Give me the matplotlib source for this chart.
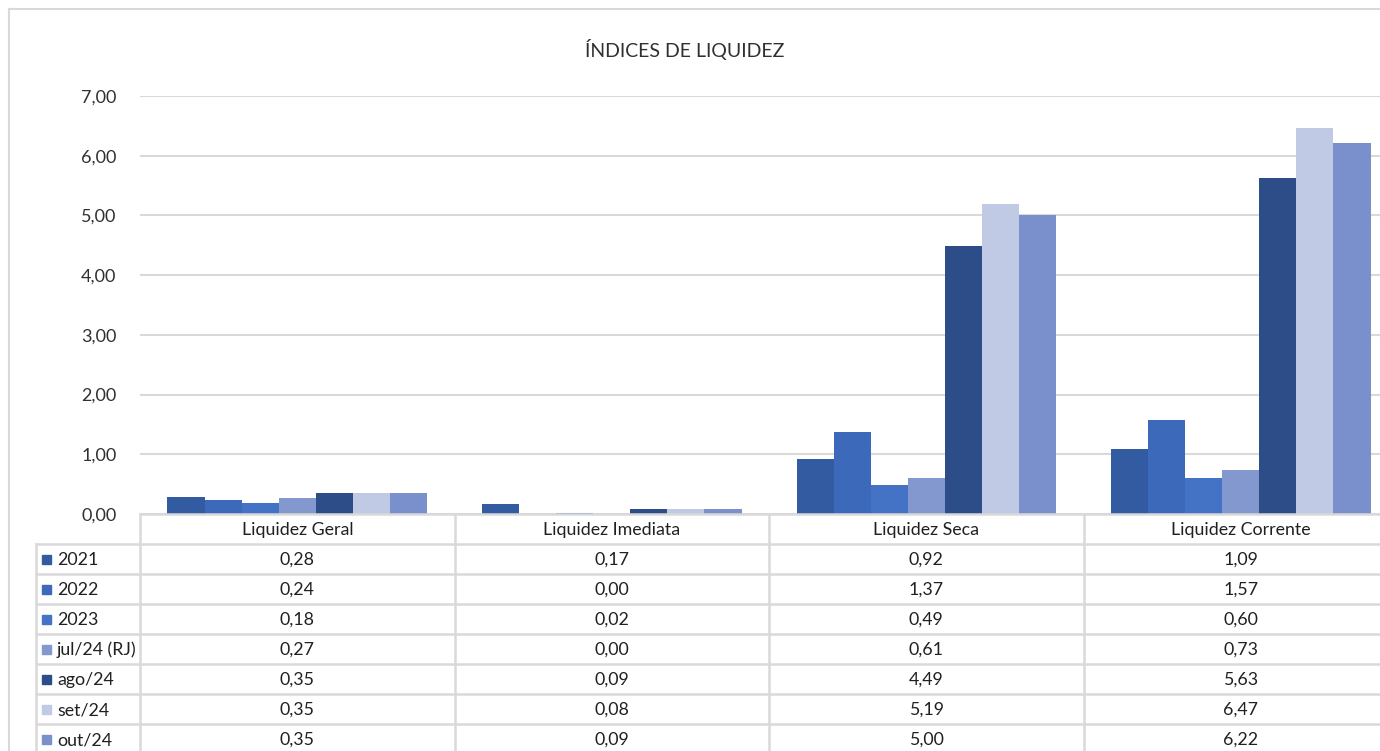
import numpy as np
import matplotlib
matplotlib.use('Agg')
import matplotlib.pyplot as plt
from matplotlib.patches import Rectangle
from matplotlib.lines import Line2D

plt.rcParams['font.family'] = ['Lato', 'DejaVu Sans']

title = 'ÍNDICES DE LIQUIDEZ'
categories = ['Liquidez Geral', 'Liquidez Imediata', 'Liquidez Seca', 'Liquidez Corrente']
series = ['2021', '2022', '2023', 'jul/24 (RJ)', 'ago/24', 'set/24', 'out/24']
values = [
    [0.28, 0.17, 0.92, 1.09],
    [0.24, 0.00, 1.37, 1.57],
    [0.18, 0.02, 0.49, 0.60],
    [0.27, 0.00, 0.61, 0.73],
    [0.35, 0.09, 4.49, 5.63],
    [0.35, 0.08, 5.19, 6.47],
    [0.35, 0.09, 5.00, 6.22],
]
colors = ['#335BA2', '#3C69B9', '#4472C4', '#8298CE', '#2C4D88', '#C0CAE4', '#7990CC']
yticks = [0, 1, 2, 3, 4, 5, 6, 7]

W, H = 1380, 751
fig = plt.figure(figsize=(W / 100, H / 100), dpi=100)

def px(x0, y0, x1, y1):
    # pixel box (top-left origin) -> figure fraction rect
    return [x0 / W, 1 - y1 / H, (x1 - x0) / W, (y1 - y0) / H]

grid_c = '#D9D9D9'
text_c = '#303030'
fs = 12.8

# outer chart border (left and top only visible)
fig.add_artist(Line2D([9 / W, 9 / W], [0, 1 - 9 / H], transform=fig.transFigure,
                      color=grid_c, linewidth=1.5))
fig.add_artist(Line2D([9 / W, 1], [1 - 9 / H, 1 - 9 / H], transform=fig.transFigure,
                      color=grid_c, linewidth=1.5))

# bar plot area
col_w = 314.5
x_left = 140
ax = fig.add_axes(px(x_left, 96, x_left + 4 * col_w, 514))
n = len(series)
gap = 55 / col_w
bw = (1 - gap) / n
x = np.arange(len(categories))
for i, (s, vals) in enumerate(zip(series, values)):
    ax.bar(x - 0.5 + gap / 2 + bw * (i + 0.5), vals, width=bw, color=colors[i], label=s, zorder=3)
ax.set_xlim(-0.5, len(categories) - 0.5)
ax.set_ylim(0, 7)
ax.set_yticks(yticks)
ax.set_yticklabels([f'{v:.2f}'.replace('.', ',') for v in yticks], fontsize=13, color=text_c)
ax.tick_params(axis='y', length=0, pad=17)
ax.set_xticks([])
ax.grid(axis='y', color=grid_c, linewidth=1.5, zorder=0)
for sp in ax.spines.values():
    sp.set_visible(False)
fig.text(685 / W, 1 - 50 / H, title, ha='center', va='center', fontsize=14, color=text_c)

# data table drawn on a full-figure overlay axes in pixel coordinates
tab = fig.add_axes([0, 0, 1, 1])
tab.set_xlim(0, W)
tab.set_ylim(H, 0)
tab.axis('off')
tab.patch.set_alpha(0)

row_h = 30
top = 514
label_x0 = 36
col_edges = [x_left + k * col_w for k in range(len(categories) + 1)]
n_rows = len(series)
bottom = top + row_h * (n_rows + 1)
lw = 1.8

# horizontal lines
tab.add_line(Line2D([x_left, col_edges[-1]], [top, top], color=grid_c, lw=lw))
for r in range(1, n_rows + 2):
    yy = top + r * row_h
    tab.add_line(Line2D([label_x0, col_edges[-1]], [yy, yy], color=grid_c, lw=lw))
# vertical lines
tab.add_line(Line2D([label_x0, label_x0], [top + row_h, bottom], color=grid_c, lw=lw))
for xe in col_edges:
    tab.add_line(Line2D([xe, xe], [top, bottom], color=grid_c, lw=lw))

# header
for k, c in enumerate(categories):
    tab.text((col_edges[k] + col_edges[k + 1]) / 2, top + row_h / 2 + 1, c,
             ha='center', va='center', fontsize=fs, color='#202020')
# rows
for r, s in enumerate(series):
    yc = top + (r + 1.5) * row_h + 1
    tab.add_patch(Rectangle((42, yc - 5), 9, 9, color=colors[r]))
    tab.text(57, yc, s, ha='left', va='center', fontsize=fs, color='#202020')
    for k in range(len(categories)):
        tab.text((col_edges[k] + col_edges[k + 1]) / 2, yc, f'{values[r][k]:.2f}'.replace('.', ','),
                 ha='center', va='center', fontsize=fs, color='#202020')

fig.savefig('out.png', dpi=100)
